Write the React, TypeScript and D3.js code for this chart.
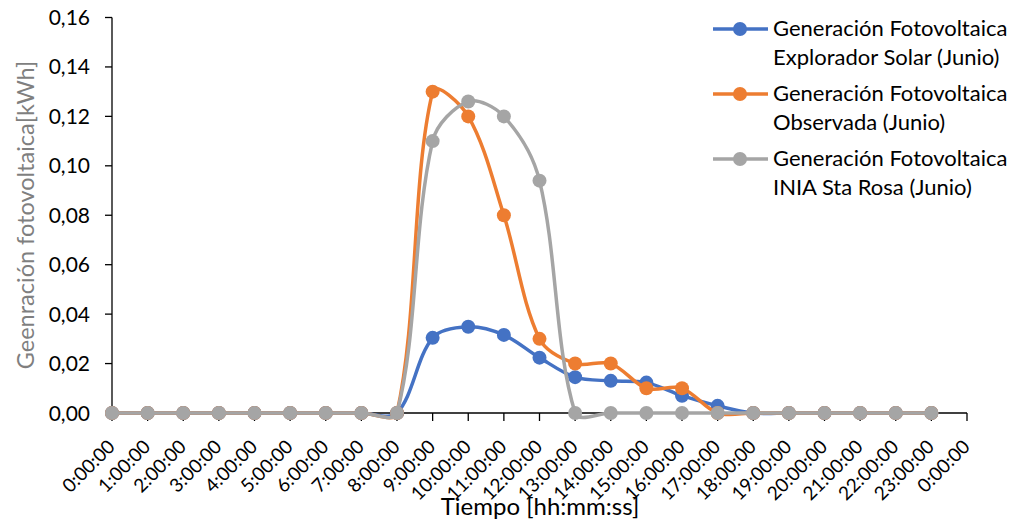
import React from "react";
import * as d3 from "d3";

const categories: string[] = [
  "0:00:00", "1:00:00", "2:00:00", "3:00:00", "4:00:00", "5:00:00", "6:00:00", "7:00:00",
  "8:00:00", "9:00:00", "10:00:00", "11:00:00", "12:00:00", "13:00:00", "14:00:00", "15:00:00",
  "16:00:00", "17:00:00", "18:00:00", "19:00:00", "20:00:00", "21:00:00", "22:00:00", "23:00:00",
  "0:00:00",
];

const explorador: number[] = [0, 0, 0, 0, 0, 0, 0, 0, 0, 0.0304, 0.0349, 0.0316, 0.0224, 0.0145, 0.013, 0.0123, 0.007, 0.0029, 0, 0, 0, 0, 0, 0];
const observada: number[] = [0, 0, 0, 0, 0, 0, 0, 0, 0, 0.13, 0.12, 0.08, 0.03, 0.02, 0.02, 0.01, 0.01, 0, 0, 0, 0, 0, 0, 0];
const inia: number[] = [0, 0, 0, 0, 0, 0, 0, 0, 0, 0.11, 0.126, 0.12, 0.094, 0, 0, 0, 0, 0, 0, 0, 0, 0, 0, 0];

const yTicks: number[] = [0, 0.02, 0.04, 0.06, 0.08, 0.1, 0.12, 0.14, 0.16];

const seriesNames: string[][] = [
  ["Generación Fotovoltaica", "Explorador Solar (Junio)"],
  ["Generación Fotovoltaica", "Observada (Junio)"],
  ["Generación Fotovoltaica", "INIA Sta Rosa (Junio)"],
];
const seriesColors: string[] = ["#4472C4", "#ED7D31", "#A5A5A5"];
const seriesData: number[][] = [explorador, observada, inia];

const FONT = "Lato, 'Open Sans', sans-serif";

// Excel-like smoothing: Bezier segments with tangents weighted by segment lengths
function smoothPath(pts: [number, number][]): string {
  const n = pts.length;
  if (n < 2) return "";
  const dist = (a: [number, number], b: [number, number]) => Math.hypot(b[0] - a[0], b[1] - a[1]);
  const d: number[] = [];
  for (let i = 0; i < n - 1; i++) d.push(dist(pts[i], pts[i + 1]));
  const path = d3.path();
  path.moveTo(pts[0][0], pts[0][1]);
  for (let i = 0; i < n - 1; i++) {
    const p1 = pts[i], p2 = pts[i + 1];
    const p0 = i > 0 ? pts[i - 1] : p1;
    const p3 = i < n - 2 ? pts[i + 2] : p2;
    const dPrev = i > 0 ? d[i - 1] : 0;
    const dNext = i < n - 2 ? d[i + 1] : 0;
    const s1 = d[i] + dPrev > 0 ? d[i] / (d[i] + dPrev) / 3 : 0;
    const s2 = d[i] + dNext > 0 ? d[i] / (d[i] + dNext) / 3 : 0;
    const c1x = p1[0] + (p2[0] - p0[0]) * s1;
    const c1y = p1[1] + (p2[1] - p0[1]) * s1;
    const c2x = p2[0] - (p3[0] - p1[0]) * s2;
    const c2y = p2[1] - (p3[1] - p1[1]) * s2;
    path.bezierCurveTo(c1x, c1y, c2x, c2y, p2[0], p2[1]);
  }
  return path.toString();
}

export default function App() {
  const W = 1016, H = 525;
  const x0 = 112, x1 = 967, yTop = 17.5, yBot = 413;
  const x = d3.scalePoint<number>().domain(categories.map((_, i) => i)).range([x0, x1]);
  const y = d3.scaleLinear().domain([0, 0.16]).range([yBot, yTop]);

  const fmt = (v: number) => v.toFixed(2).replace(".", ",");

  return (
    <svg width={W} height={H} style={{ position: "absolute", left: 0, top: 0, background: "#fff" }} fontFamily={FONT}>
      {/* y axis */}
      <line x1={x0} x2={x0} y1={yTop} y2={yBot} stroke="#000" strokeWidth={1.3} />
      {yTicks.map((t) => (
        <g key={t}>
          <line x1={x0 - 7} x2={x0} y1={y(t)} y2={y(t)} stroke="#000" strokeWidth={1.3} />
          <text x={90} y={y(t)} dy="0.36em" textAnchor="end" fontSize={21} fill="#000">{fmt(t)}</text>
        </g>
      ))}
      {/* x axis */}
      <line x1={x0} x2={x1} y1={yBot} y2={yBot} stroke="#000" strokeWidth={1.3} />
      {categories.map((c, i) => (
        <g key={i}>
          <line x1={x(i)} x2={x(i)} y1={yBot} y2={yBot + 8} stroke="#000" strokeWidth={1.3} />
          <text
            transform={`translate(${(x(i) as number) + 4},${448}) rotate(-45)`}
            textAnchor="end"
            fontSize={19}
            fill="#000"
          >{c}</text>
        </g>
      ))}
      {/* series */}
      {seriesData.map((s, k) => {
        const pts: [number, number][] = s.map((v, i) => [x(i) as number, y(v)]);
        return (
          <g key={k}>
            <path d={smoothPath(pts)} fill="none" stroke={seriesColors[k]} strokeWidth={3.5} strokeLinejoin="round" />
            {pts.map((p, i) => (
              <circle key={i} cx={p[0]} cy={p[1]} r={7} fill={seriesColors[k]} />
            ))}
          </g>
        );
      })}
      {/* axis titles */}
      <text transform={`translate(34,215) rotate(-90)`} textAnchor="middle" fontSize={23.5} fill="#7F7F7F">
        Geenración fotovoltaica[kWh]
      </text>
      <text x={540} y={515} textAnchor="middle" fontSize={24} fill="#000">Tiempo [hh:mm:ss]</text>
      {/* legend */}
      {seriesNames.map((n, k) => {
        const cy = 29 + k * 65;
        return (
          <g key={k}>
            <line x1={713} x2={768} y1={cy} y2={cy} stroke={seriesColors[k]} strokeWidth={3.5} />
            <circle cx={740} cy={cy} r={7} fill={seriesColors[k]} />
            <text x={773} y={cy + 7} fontSize={22} fill="#000">{n[0]}</text>
            <text x={773} y={cy + 36} fontSize={22} fill="#000">{n[1]}</text>
          </g>
        );
      })}
    </svg>
  );
}
